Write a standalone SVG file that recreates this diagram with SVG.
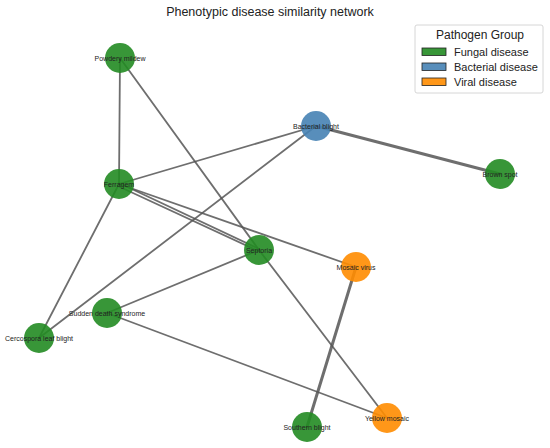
<svg xmlns="http://www.w3.org/2000/svg" width="550" height="448" viewBox="0 0 550 448">
<style>
.e{stroke:#555;stroke-opacity:0.85;fill:none;stroke-linecap:round}
.t{stroke-width:1.8}
.k{stroke-width:3}
.f{fill:#228b22;fill-opacity:0.9}
.b{fill:#4682b4;fill-opacity:0.9}
.v{fill:#ff8c00;fill-opacity:0.9}
.lbl{font-family:"Liberation Sans",Arial,sans-serif;font-size:7px;fill:#222;text-anchor:middle;dominant-baseline:central}
.lg{font-family:"Liberation Sans",Arial,sans-serif;font-size:11px;fill:#222}
</style>
<rect width="550" height="448" fill="#fff"/>
<text x="270" y="16" font-family="Liberation Sans,Arial,sans-serif" font-size="12.5" fill="#222" text-anchor="middle">Phenotypic disease similarity network</text>
<g id="connectors">
<line class="e t" x1="120" y1="58" x2="119" y2="184"/>
<line class="e t" x1="120" y1="58" x2="259" y2="250"/>
<line class="e t" x1="119" y1="184" x2="316" y2="126"/>
<line class="e t" x1="119" y1="183" x2="259" y2="249"/>
<line class="e t" x1="120" y1="187" x2="258" y2="251"/>
<line class="e t" x1="119" y1="184" x2="356" y2="267"/>
<line class="e t" x1="119" y1="184" x2="39" y2="338"/>
<line class="e k" x1="316" y1="126" x2="500" y2="174"/>
<line class="e t" x1="316" y1="126" x2="39" y2="338"/>
<line class="e t" x1="259" y1="250" x2="107" y2="313"/>
<line class="e t" x1="259" y1="250" x2="387" y2="418"/>
<line class="e k" x1="356" y1="267" x2="307" y2="427"/>
<line class="e t" x1="107" y1="313" x2="387" y2="418"/>
</g>
<g id="n-powdery"><circle class="f" cx="120" cy="58" r="15"/><text class="lbl" x="120" y="58">Powdery mildew</text></g>
<g id="n-ferragem"><circle class="f" cx="119" cy="184" r="15"/><text class="lbl" x="119" y="184">Ferragem</text></g>
<g id="n-bacterial"><circle class="b" cx="316" cy="126" r="15"/><text class="lbl" x="316" y="126">Bacterial blight</text></g>
<g id="n-brown"><circle class="f" cx="500" cy="174" r="15"/><text class="lbl" x="500" y="174">Brown spot</text></g>
<g id="n-septoria"><circle class="f" cx="259" cy="250" r="15"/><text class="lbl" x="259" y="250">Septoria</text></g>
<g id="n-mosaic"><circle class="v" cx="356" cy="267" r="15"/><text class="lbl" x="356" y="267">Mosaic virus</text></g>
<g id="n-sudden"><circle class="f" cx="107" cy="313" r="15"/><text class="lbl" x="107" y="313">Sudden death syndrome</text></g>
<g id="n-cercospora"><circle class="f" cx="39" cy="338" r="15"/><text class="lbl" x="39" y="338">Cercospora leaf blight</text></g>
<g id="n-yellow"><circle class="v" cx="387" cy="418" r="15"/><text class="lbl" x="387" y="418">Yellow mosaic</text></g>
<g id="n-southern"><circle class="f" cx="307" cy="427" r="15"/><text class="lbl" x="307" y="427">Southern blight</text></g>
<g id="legend">
<rect x="415" y="25" width="128" height="68" rx="2" fill="#fff" fill-opacity="0.8" stroke="#ccc" stroke-width="0.8"/>
<text x="480" y="39" font-family="Liberation Sans,Arial,sans-serif" font-size="12" fill="#222" text-anchor="middle">Pathogen Group</text>
<rect x="422" y="48" width="24" height="7.5" class="f" stroke="#222" stroke-width="0.8"/>
<text class="lg" x="454" y="56">Fungal disease</text>
<rect x="422" y="63" width="24" height="7.5" class="b" stroke="#222" stroke-width="0.8"/>
<text class="lg" x="454" y="71">Bacterial disease</text>
<rect x="422" y="78" width="24" height="7.5" class="v" stroke="#222" stroke-width="0.8"/>
<text class="lg" x="454" y="86">Viral disease</text>
</g>
</svg>
